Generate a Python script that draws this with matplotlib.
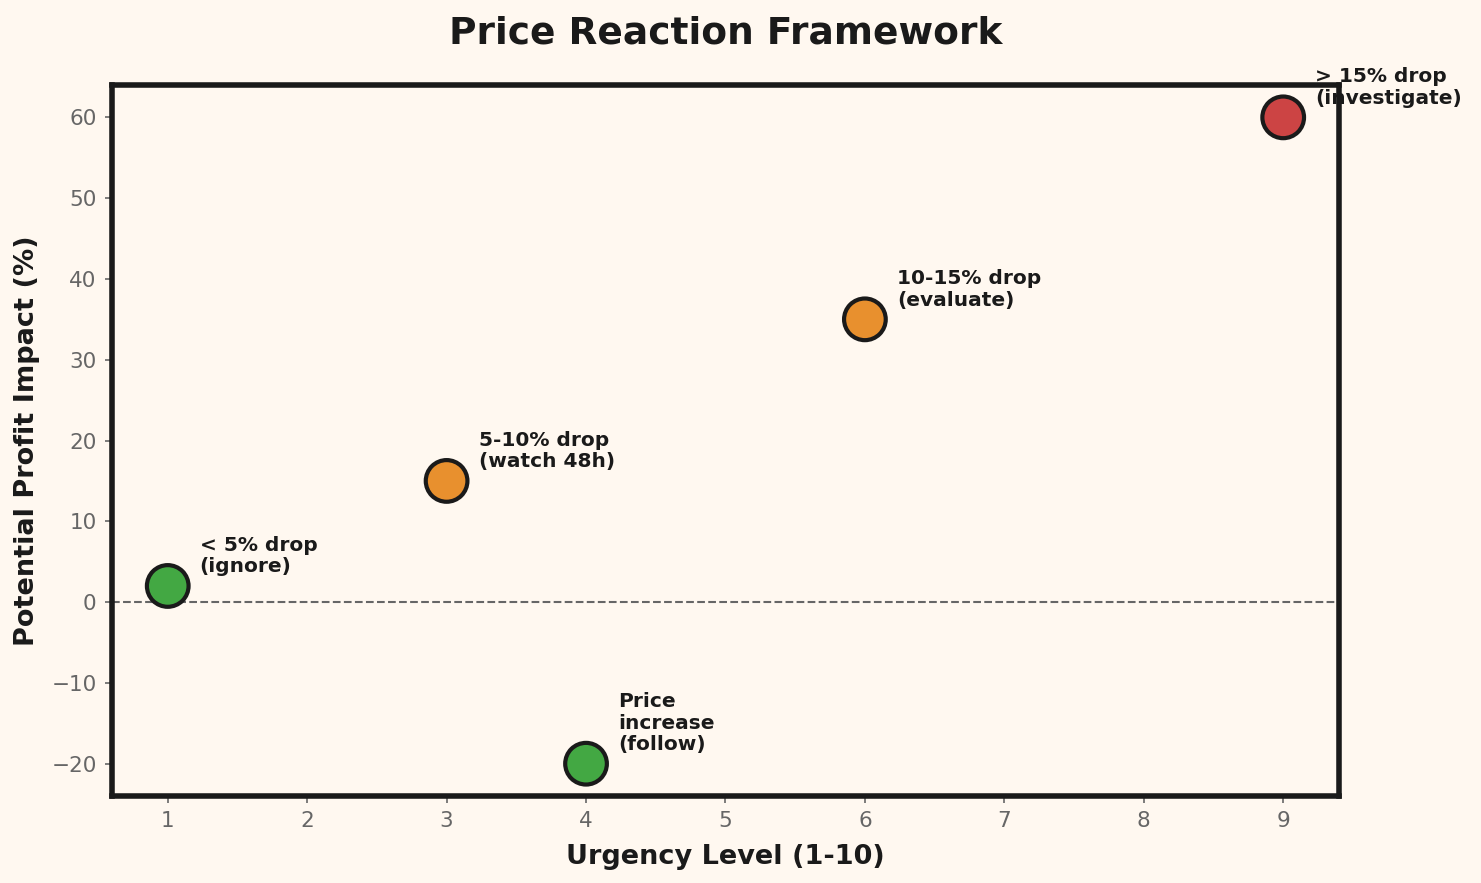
import matplotlib.pyplot as plt

# scenario data
urgency = [1, 3, 6, 9, 4]
impact = [2, 15, 35, 60, -20]
labels = ['< 5% drop\n(ignore)', '5-10% drop\n(watch 48h)', '10-15% drop\n(evaluate)',
          '> 15% drop\n(investigate)', 'Price\nincrease\n(follow)']
colors = ['#43a843', '#e8902e', '#e8902e', '#cc4444', '#43a843']

bg = '#fff8f0'
ink = '#1a1a1a'

fig = plt.figure(figsize=(14.81, 8.83), dpi=100, facecolor=bg)
ax = fig.add_axes([0.0756, 0.0985, 0.8285, 0.8052])
ax.set_facecolor(bg)

ax.axhline(0, color='#666666', linestyle='--', linewidth=1.5, zorder=1)
ax.scatter(urgency, impact, s=900, c=colors, edgecolors=ink, linewidths=3, zorder=3)

for x, y, lab in zip(urgency, impact, labels):
    ax.annotate(lab, (x, y), xytext=(23, 7), textcoords='offset points',
                ha='left', va='bottom', fontsize=14.5, fontweight='bold', color=ink,
                linespacing=1.15, annotation_clip=False)

ax.set_xlim(0.6, 9.4)
ax.set_ylim(-24, 64)
ax.set_xticks(range(1, 10))

for sp in ax.spines.values():
    sp.set_linewidth(4)
    sp.set_color(ink)
ax.tick_params(labelsize=15.5, colors='#666666', length=5, width=1.2, pad=6)

ax.set_xlabel('Urgency Level (1-10)', fontsize=19.5, fontweight='bold', color=ink, labelpad=9)
ax.set_ylabel('Potential Profit Impact (%)', fontsize=19.5, fontweight='bold', color=ink, labelpad=8)
ax.set_title('Price Reaction Framework', fontsize=27, fontweight='bold', color=ink, pad=30)

fig.savefig('out.png', dpi=100, facecolor=bg)
plt.close(fig)
